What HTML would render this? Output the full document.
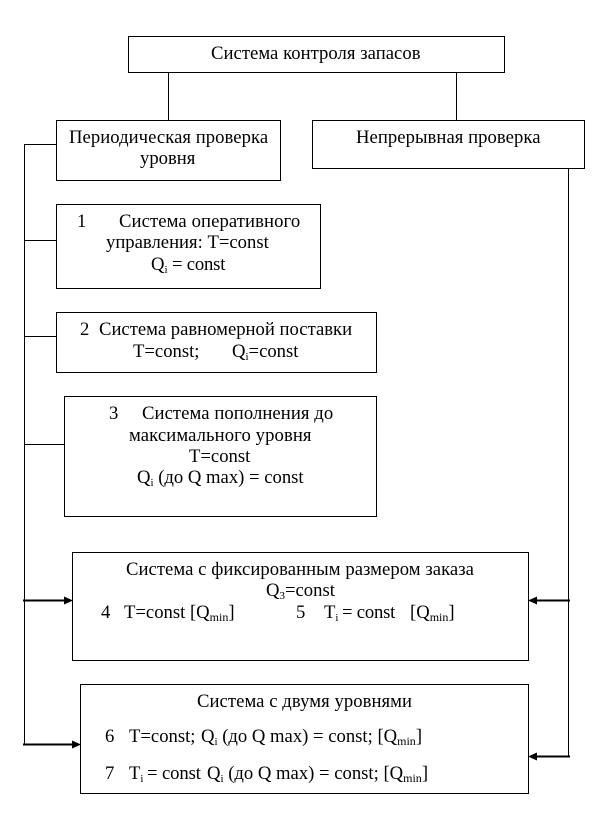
<!DOCTYPE html>
<html>
<head>
<meta charset="utf-8">
<style>
html,body{margin:0;padding:0;background:#fff;width:605px;height:813px;overflow:hidden}
svg{display:block}
text{font-family:"Liberation Serif",serif;font-size:18.67px;fill:#000;white-space:pre}
.s{font-size:11px}
.m{font-size:12px}
rect{fill:#fff;stroke:#000;stroke-width:1}
line{stroke:#000;stroke-width:1}
.t{stroke-width:2}
</style>
</head>
<body>
<svg width="605" height="813" viewBox="0 0 605 813" xmlns="http://www.w3.org/2000/svg">
<line x1="168.5" y1="72" x2="168.5" y2="120"/>
<line x1="456.5" y1="72" x2="456.5" y2="120"/>
<line x1="24.5" y1="144" x2="24.5" y2="745"/>
<line x1="24" y1="144.5" x2="56" y2="144.5"/>
<line x1="24" y1="240.5" x2="56" y2="240.5"/>
<line x1="24" y1="336.5" x2="56" y2="336.5"/>
<line x1="24" y1="444.5" x2="64" y2="444.5"/>
<line x1="568.5" y1="168" x2="568.5" y2="757"/>

<rect x="128.5" y="36.5" width="376" height="36"/>
<rect x="56.5" y="120.5" width="224" height="60"/>
<rect x="312.5" y="120.5" width="272" height="48"/>
<rect x="56.5" y="204.5" width="264" height="84"/>
<rect x="56.5" y="312.5" width="320" height="60"/>
<rect x="64.5" y="396.5" width="312" height="120"/>
<rect x="72.5" y="552.5" width="456" height="108"/>
<rect x="80.5" y="684.5" width="448" height="109"/>

<line class="t" x1="23" y1="600.5" x2="66" y2="600.5"/>
<polygon points="73,600.5 64,596.5 64,604.5"/>
<line class="t" x1="23" y1="744.5" x2="74" y2="744.5"/>
<polygon points="81,744.5 72,740.5 72,748.5"/>
<line class="t" x1="535" y1="600.5" x2="570" y2="600.5"/>
<polygon points="528,600.5 537,596.5 537,604.5"/>
<line class="t" x1="535" y1="756.5" x2="570" y2="756.5"/>
<polygon points="528,756.5 537,752.5 537,760.5"/>

<text x="211" y="59" letter-spacing=".04">Система контроля запасов</text>
<text x="69" y="143" letter-spacing=".05">Периодическая проверка</text>
<text x="140" y="164">уровня</text>
<text x="356" y="143" letter-spacing=".05">Непрерывная проверка</text>

<text x="77" y="227">1</text>
<text x="119" y="227" letter-spacing=".1">Система оперативного</text>
<text x="106" y="248">управления: T=const</text>
<text x="151" y="270">Q<tspan class="s" dy="3">i</tspan><tspan dy="-3" letter-spacing="-.2"> = const</tspan></text>

<text x="80" y="335">2</text>
<text x="99" y="335">Система равномерной поставки</text>
<text x="133" y="357">T=const;</text>
<text x="232" y="357">Q<tspan class="s" dy="3">i</tspan><tspan dy="-3">=const</tspan></text>

<text x="109" y="419">3</text>
<text x="142" y="419" letter-spacing=".07">Система пополнения до</text>
<text x="129" y="441" letter-spacing=".1">максимального уровня</text>
<text x="189" y="462">T=const</text>
<text x="137" y="483">Q<tspan class="s" dy="3">i</tspan><tspan dy="-3"> (до Q max) = const</tspan></text>

<text x="126" y="575" letter-spacing=".05">Система с фиксированным размером заказа</text>
<text x="266" y="596">Q<tspan class="s" dy="3">3</tspan><tspan dy="-3">=const</tspan></text>
<text x="101" y="618">4</text>
<text x="124" y="618">T=const [Q<tspan class="m" dy="3">min</tspan><tspan dy="-3">]</tspan></text>
<text x="296" y="618">5</text>
<text x="324" y="618">T<tspan class="s" dy="3">i</tspan></text>
<text x="342" y="618" letter-spacing="-.2">= const</text>
<text x="410" y="618">[Q<tspan class="m" dy="3">min</tspan><tspan dy="-3">]</tspan></text>

<text x="197" y="707" letter-spacing=".06">Система с двумя уровнями</text>
<text x="105" y="742">6</text>
<text x="129" y="742">T=const;</text>
<text x="201" y="742">Q<tspan class="s" dy="3">i</tspan><tspan dy="-3"> (до Q max) = const; [Q</tspan><tspan class="m" dy="3">min</tspan><tspan dy="-3">]</tspan></text>
<text x="105" y="779">7</text>
<text x="129" y="779">T<tspan class="s" dy="3">i</tspan></text>
<text x="147" y="779" letter-spacing="-.1">= const</text>
<text x="207" y="779">Q<tspan class="s" dy="3">i</tspan><tspan dy="-3"> (до Q max) = const; [Q</tspan><tspan class="m" dy="3">min</tspan><tspan dy="-3">]</tspan></text>
</svg>
</body>
</html>
